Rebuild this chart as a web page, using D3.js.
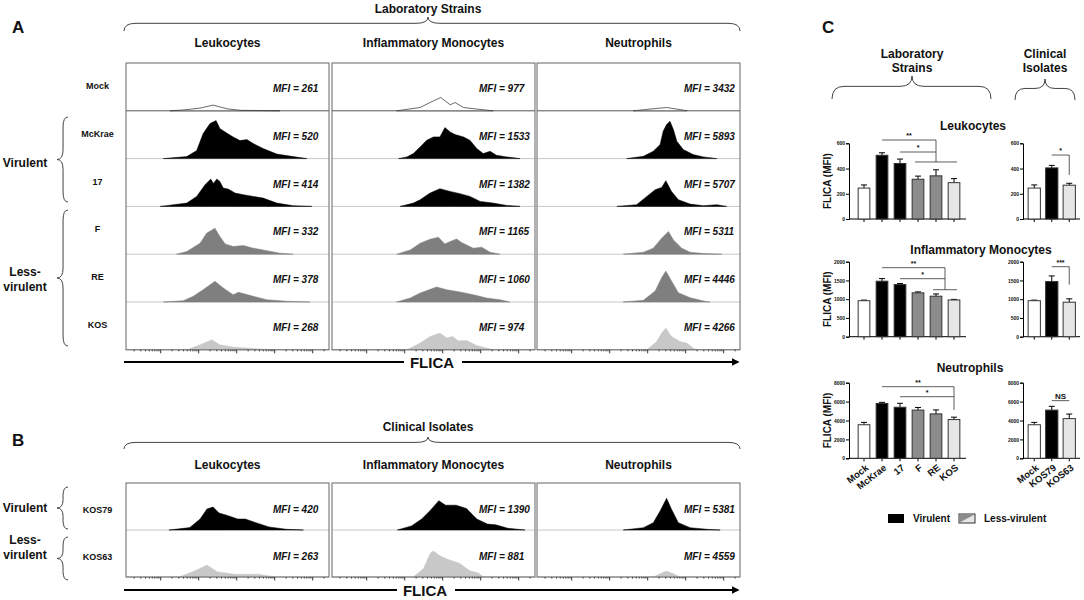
<!DOCTYPE html>
<meta charset="utf-8">
<script src="https://d3js.org/d3.v7.min.js"></script>
<style>
  body { margin: 0; background: #fff; }
  text { font-family: "Liberation Sans", Arial, sans-serif; font-weight: bold; fill: #111; }
</style>
<div id="fig"></div>
<script>
// ---------------- data ----------------
var labStrains = ["Mock", "McKrae", "17", "F", "RE", "KOS"];
var clinStrains = ["KOS79", "KOS63"];
var clinBarsCats = ["Mock", "KOS79", "KOS63"];
var cellTypes = ["Leukocytes", "Inflammatory Monocytes", "Neutrophils"];

// MFI printed on each histogram
var mfiLeukLab = [261, 520, 414, 332, 378, 268];
var mfiMonoLab = [977, 1533, 1382, 1165, 1060, 974];
var mfiNeutLab = [3432, 5893, 5707, 5311, 4446, 4266];
var mfiLeukClin = [420, 263];
var mfiMonoClin = [1390, 881];
var mfiNeutClin = [5381, 4559];

// histogram outlines: [log10 FLICA, events]
var histLeukLab = [
  [[2.26,0],[2.6,0.8],[3.05,2.7],[3.39,5.7],[3.76,2],[4.1,0.5],[4.6,0.3],[5.15,0]],
  [[2.08,0],[2.70,2],[2.96,8],[3.13,25],[3.31,35],[3.47,38],[3.57,30],[3.75,25.6],[3.92,21.6],[4.10,18],[4.28,19],[4.45,15],[4.71,10],[5.07,4.5],[5.50,2],[5.86,0]],
  [[2.0,0],[2.70,3.3],[2.96,10],[3.18,21.7],[3.33,27.3],[3.40,23],[3.49,27.3],[3.57,25],[3.66,18.3],[3.79,17.3],[3.97,13.3],[4.19,11.7],[4.45,10],[4.71,8.3],[5.07,3.3],[5.50,0.7],[5.99,0]],
  [[2.43,0],[2.70,2.7],[3.05,11],[3.22,21],[3.44,26],[3.57,17.7],[3.71,10.3],[3.92,7.7],[4.19,8.7],[4.45,6],[4.71,4.3],[5.15,1],[5.50,0]],
  [[2.08,0],[2.61,1.3],[2.87,5.7],[3.13,12.3],[3.44,20.7],[3.66,14],[3.92,7.3],[4.06,9.7],[4.23,8],[4.45,5.7],[4.80,2.3],[5.33,0.7],[5.94,0]],
  [[2.70,0],[3.05,5],[3.36,10],[3.57,5],[3.92,2.7],[4.45,1.3],[4.98,0]]
];
var histMonoLab = [
  [[2.80,0],[3.42,3.3],[3.68,8.3],[3.96,13.3],[4.21,6],[4.34,8.3],[4.56,3.3],[4.91,1.7],[5.34,0]],
  [[2.85,0],[3.07,1.7],[3.24,5],[3.42,11.7],[3.59,18.3],[3.77,21.7],[3.94,21.7],[4.07,31],[4.21,26.7],[4.34,24],[4.56,21.7],[4.73,18.3],[4.91,10],[5.08,5],[5.26,7.3],[5.43,3.3],[5.70,1.7],[6.05,0]],
  [[2.89,0],[3.24,3.3],[3.42,6.7],[3.68,13.3],[3.94,17.7],[4.21,15],[4.47,12.7],[4.73,10],[5.00,5],[5.34,3.3],[5.70,1],[6.05,0]],
  [[2.80,0],[3.16,4.3],[3.42,11],[3.68,15],[3.90,17],[4.07,10.3],[4.21,12.7],[4.38,15.3],[4.51,11.7],[4.82,6],[5.04,7],[5.26,2],[5.52,0]],
  [[2.80,0],[3.16,4],[3.42,9],[3.85,15],[4.12,12.3],[4.47,10],[4.82,7.3],[5.17,4],[5.52,2.3],[5.78,0]],
  [[3.07,0],[3.42,6.7],[3.68,13.3],[3.94,16.7],[4.12,11.7],[4.27,13.3],[4.42,9],[4.64,9.3],[4.91,4.3],[5.17,1.7],[5.34,0]]
];
var histNeutLab = [
  [[3.64,0],[4.07,1.7],[4.51,3.3],[4.95,0.7],[5.04,0]],
  [[3.46,0],[3.90,2.3],[4.16,7.3],[4.34,14],[4.42,27.3],[4.51,34],[4.60,37.3],[4.69,29],[4.78,17.3],[4.95,9],[5.21,4],[5.48,1.7],[5.83,0]],
  [[3.20,0],[3.72,1.7],[3.99,10],[4.21,16.7],[4.38,19],[4.49,25.7],[4.64,15],[4.82,6.7],[5.13,2.3],[5.48,0.7],[5.83,1.7],[6.09,0]],
  [[3.37,0],[3.90,2],[4.16,6],[4.38,16],[4.56,22.7],[4.69,14.3],[4.91,6],[5.13,2],[5.48,0.7],[5.96,0]],
  [[3.37,0],[3.90,1.7],[4.21,11],[4.38,24.3],[4.49,31],[4.64,21],[4.82,9.3],[5.13,4.3],[5.57,0.3],[5.65,0]],
  [[3.99,0],[4.25,8.3],[4.38,16.7],[4.49,21.7],[4.64,13.3],[4.86,8.3],[5.04,6.7],[5.21,1.7],[5.30,0]]
];
var histLeukClin = [
  [[2.23,0],[2.78,2.4],[3.05,11],[3.23,21],[3.39,23],[3.55,17],[3.77,14.5],[4.04,11],[4.24,11],[4.50,7.6],[4.86,3.1],[5.32,0.7],[5.77,0]],
  [[2.50,0],[2.96,6.9],[3.23,12],[3.50,5.2],[3.96,2.8],[4.59,2.8],[5.04,0]]
];
var histMonoClin = [
  [[2.82,0],[3.19,4.1],[3.46,11],[3.69,19.7],[3.91,29.3],[4.09,24.8],[4.37,24.8],[4.64,21.4],[4.91,11],[5.19,5.9],[5.41,5.2],[5.73,1.7],[6.18,0]],
  [[3.24,0],[3.51,8.6],[3.69,24],[3.77,25.9],[3.96,20.7],[4.18,17.2],[4.45,13.8],[4.73,6.2],[4.95,4.1],[5.09,0]]
];
var histNeutClin = [
  [[3.37,0],[3.90,2.3],[4.16,7.3],[4.34,19],[4.51,31.7],[4.64,20.7],[4.82,7.3],[5.13,2.3],[5.57,0.7],[5.92,0]],
  [[4.16,0],[4.34,3.3],[4.51,6],[4.69,3.3],[4.86,0]]
];

// bar chart values (mean MFI, SEM)
var leukLab = [245, 505, 440, 315, 342, 288],     leukLabErr = [25, 20, 35, 25, 48, 32];
var leukClin = [245, 405, 268],                    leukClinErr = [25, 20, 15];
var monoLab = [960, 1480, 1390, 1170, 1080, 980], monoLabErr = [15, 70, 30, 25, 60, 15];
var monoClin = [960, 1470, 920],                   monoClinErr = [15, 150, 90];
var neutLab = [3550, 5800, 5400, 5100, 4700, 4100], neutLabErr = [250, 120, 420, 280, 420, 250];
var neutClin = [3550, 5100, 4200],                 neutClinErr = [250, 400, 480];

// significance brackets
var leukLabSig = [{a:"McKrae", v:626, txt:"**"}, {a:"17", v:531, txt:"*"}];
var leukLabStem = {at:["RE"], top:626, bottom:452, group:["F","KOS"]};
var monoLabSig = [{a:"McKrae", v:1840, txt:"**"}, {a:"17", v:1547, txt:"*"}];
var monoLabStem = {at:["RE","KOS"], top:1840, bottom:1253, group:["RE","KOS"]};
var neutLabSig = [{a:"McKrae", v:7577, txt:"**"}, {a:"17", v:6519, txt:"*"}];
var neutLabStem = {at:["KOS"], top:7577, bottom:5111, group:null};
var leukClinSig = {v:507, bottom:349, txt:"*"};
var monoClinSig = {v:1867, bottom:1387, txt:"***"};
var neutClinSig = {v:6100, bottom:null, txt:"NS"};

// ---------------- drawing ----------------
var svg = d3.select("#fig").append("svg").attr("width", 1084).attr("height", 600);

var histFill = {Mock:"#fff", McKrae:"#000", "17":"#000", F:"#7f7f7f", RE:"#7f7f7f", KOS:"#c8c8c8", KOS79:"#000", KOS63:"#c8c8c8"};
var barFill  = {Mock:"#fff", McKrae:"#000", "17":"#000", F:"#8c8c8c", RE:"#8c8c8c", KOS:"#e6e6e6", KOS79:"#000", KOS63:"#e6e6e6"};

var colLeft = [126, 332, 537], colW = 203, decPx = 38;

function hBrace(x1, x2, yTip, h, mid) {
  mid = mid || (x1 + x2) / 2;
  var ym = yTip + h * 0.45, ye = yTip + h, w = Math.min(12, (x2 - x1) / 6);
  return "M" + x1 + "," + ye + " Q" + x1 + "," + ym + " " + (x1 + w) + "," + ym +
    " L" + (mid - w) + "," + ym + " Q" + mid + "," + ym + " " + mid + "," + yTip +
    " Q" + mid + "," + ym + " " + (mid + w) + "," + ym +
    " L" + (x2 - w) + "," + ym + " Q" + x2 + "," + ym + " " + x2 + "," + ye;
}
function vBrace(xTip, w, y1, y2) {
  var xm = xTip + w * 0.55, xe = xTip + w, mid = (y1 + y2) / 2, c = Math.min(10, (y2 - y1) / 5);
  return "M" + xe + "," + y1 + " Q" + xm + "," + y1 + " " + xm + "," + (y1 + c) +
    " L" + xm + "," + (mid - c) + " Q" + xm + "," + mid + " " + xTip + "," + mid +
    " Q" + xm + "," + mid + " " + xm + "," + (mid + c) +
    " L" + xm + "," + (y2 - c) + " Q" + xm + "," + y2 + " " + xe + "," + y2;
}
function brace(d) {
  svg.append("path").attr("d", d).attr("fill", "none").attr("stroke", "#444").attr("stroke-width", 1);
}
function label(x, y, txt, size, anchor) {
  return svg.append("text").attr("x", x).attr("y", y).attr("text-anchor", anchor || "middle")
    .style("font-size", size + "px").text(txt);
}

// arrowhead
svg.append("defs").append("marker").attr("id", "arr").attr("viewBox", "0 0 10 10")
  .attr("refX", 8).attr("refY", 5).attr("markerWidth", 4).attr("markerHeight", 4).attr("orient", "auto")
  .append("path").attr("d", "M0,0 L10,5 L0,10 z").attr("fill", "#000");

function histPanel(top, rowH, strains, hists, mfis, mfiBase, labelBase) {
  hists.forEach(function(colHists, c) {
    var x0 = colLeft[c];
    var x = d3.scaleLog().domain([Math.pow(10, 1.1), Math.pow(10, 1.1 + colW / decPx)]).range([x0, x0 + colW]);
    var g = svg.append("g");
    strains.forEach(function(s, r) {
      var bot = top + (r + 1) * rowH;
      var y = d3.scaleLinear().domain([0, 48]).range([bot, bot - 48]);
      var area = d3.area().x(function(d) { return x(Math.pow(10, d[0])); })
        .y0(y(0)).y1(function(d) { return y(d[1]); });
      g.append("line").attr("x1", x0).attr("x2", x0 + colW).attr("y1", bot).attr("y2", bot)
        .attr("stroke", s === "Mock" ? "#555" : "#c8c8c8").attr("stroke-width", 1);
      g.append("path").datum(colHists[r]).attr("d", area)
        .attr("fill", histFill[s])
        .attr("stroke", s === "Mock" ? "#444" : histFill[s])
        .attr("stroke-width", s === "Mock" ? 0.8 : 0.5);
      g.append("text").attr("x", x0 + 147).attr("y", top + r * rowH + mfiBase)
        .style("font-size", "10px").style("font-style", "italic")
        .text("MFI = " + mfis[c][r]);
    });
    var H = rowH * strains.length;
    g.append("rect").attr("x", x0).attr("y", top).attr("width", colW).attr("height", H)
      .attr("fill", "none").attr("stroke", "#666").attr("stroke-width", 1);
    // log axis ticks
    var minor = [], major = [];
    for (var k = 1; k <= 7; k++) for (var m = 1; m <= 9; m++) {
      var v = m * Math.pow(10, k);
      if (v > x.domain()[0] && v < x.domain()[1]) (m === 1 ? major : minor).push(v);
    }
    [[minor, 1.5], [major, 3.5]].forEach(function(t) {
      var ax = g.append("g").attr("transform", "translate(0," + (top + H) + ")")
        .call(d3.axisBottom(x).tickValues(t[0]).tickSize(t[1]).tickFormat(""));
      ax.select(".domain").remove();
      ax.selectAll(".tick line").attr("stroke", "#333");
    });
  });
  strains.forEach(function(s, r) {
    label(97.5, top + r * rowH + labelBase, s, 9);
  });
}

// ---- panel A ----
label(12, 33, "A", 17, "start");
label(428, 13, "Laboratory Strains", 12);
brace(hBrace(124, 740, 17, 14, 428));
cellTypes.forEach(function(t, c) { label(colLeft[c] + colW / 2, 47, t, 12); });
histPanel(63, 47.8, labStrains, [histLeukLab, histMonoLab, histNeutLab],
  [mfiLeukLab, mfiMonoLab, mfiNeutLab], 29, 26);
label(25, 167, "Virulent", 12);
brace(vBrace(57, 11, 117, 202));
label(25, 276, "Less-", 12);
label(25, 291, "virulent", 12);
brace(vBrace(57, 11, 210, 346));

function flicaArrow(y, xText) {
  svg.append("line").attr("x1", 124).attr("x2", xText - 28).attr("y1", y).attr("y2", y)
    .attr("stroke", "#000").attr("stroke-width", 2);
  svg.append("line").attr("x1", xText + 30).attr("x2", 738).attr("y1", y).attr("y2", y)
    .attr("stroke", "#000").attr("stroke-width", 2).attr("marker-end", "url(#arr)");
  label(xText, y + 6, "FLICA", 15);
}
flicaArrow(362, 432);

// ---- panel B ----
label(12, 446, "B", 17, "start");
label(428, 431, "Clinical Isolates", 12);
brace(hBrace(124, 740, 437, 12, 428));
cellTypes.forEach(function(t, c) { label(colLeft[c] + colW / 2, 469, t, 12); });
histPanel(483, 47, clinStrains, [histLeukClin, histMonoClin, histNeutClin],
  [mfiLeukClin, mfiMonoClin, mfiNeutClin], 30, 30);
label(25, 512, "Virulent", 12);
brace(vBrace(57, 11, 487, 529));
label(25, 544, "Less-", 12);
label(25, 559, "virulent", 12);
brace(vBrace(57, 11, 537, 580));
flicaArrow(590, 425);

// ---- panel C ----
label(822, 33, "C", 17, "start");
label(912, 58, "Laboratory", 12); label(912, 72, "Strains", 12);
label(1045, 58, "Clinical", 12); label(1045, 72, "Isolates", 12);
brace(hBrace(832, 991, 76, 23, 912));
brace(hBrace(1015, 1075, 79, 21, 1045));

var xLab = d3.scaleBand().domain(labStrains).range([855, 963]).paddingInner(0.35).paddingOuter(0.175);
var xClin = d3.scaleBand().domain(clinBarsCats).range([1025.5, 1078]).paddingInner(0.3).paddingOuter(0.15);

var charts = [
  {title:"Leukocytes", tx:973, ty:130, y0:219, y1:143.3, max:600, ticks:[0,200,400,600], names:false,
   lab:leukLab, labErr:leukLabErr, clin:leukClin, clinErr:leukClinErr, sig:leukLabSig, stem:leukLabStem, csig:leukClinSig},
  {title:"Inflammatory Monocytes", tx:981, ty:254, y0:336.7, y1:261.7, max:2000, ticks:[0,500,1000,1500,2000], names:false,
   lab:monoLab, labErr:monoLabErr, clin:monoClin, clinErr:monoClinErr, sig:monoLabSig, stem:monoLabStem, csig:monoClinSig},
  {title:"Neutrophils", tx:970, ty:372, y0:458.3, y1:382.7, max:8000, ticks:[0,2000,4000,6000,8000], names:true,
   lab:neutLab, labErr:neutLabErr, clin:neutClin, clinErr:neutClinErr, sig:neutLabSig, stem:neutLabStem, csig:neutClinSig}
];

function barChart(g, x, axisX, axisEnd, y, ticks, names, cats, vals, errs) {
  var ya = g.append("g").attr("transform", "translate(" + axisX + ",0)")
    .call(d3.axisLeft(y).tickValues(ticks).tickSize(3).tickPadding(1).tickFormat(d3.format("d")));
  ya.select(".domain").attr("stroke", "#000");
  ya.selectAll("text").style("font-size", "5px");
  var xa = g.append("g").attr("transform", "translate(0," + y(0) + ")")
    .call(d3.axisBottom(x).tickSize(3).tickPadding(1));
  xa.select(".domain").attr("d", "M" + axisX + ",0H" + axisEnd).attr("stroke", "#000");
  if (names) {
    xa.selectAll("text").style("font-size", "9.5px").attr("text-anchor", "end")
      .attr("x", 0).attr("y", 0).attr("dy", "0.35em")
      .attr("transform", "translate(3,8) rotate(-38)");
  } else {
    xa.selectAll("text").remove();
  }
  var bw = x.bandwidth();
  cats.forEach(function(c, i) {
    var cx = x(c) + bw / 2;
    g.append("line").attr("x1", cx).attr("x2", cx).attr("y1", y(vals[i])).attr("y2", y(vals[i] + errs[i]))
      .attr("stroke", "#000").attr("stroke-width", 1);
    g.append("line").attr("x1", cx - 3).attr("x2", cx + 3).attr("y1", y(vals[i] + errs[i])).attr("y2", y(vals[i] + errs[i]))
      .attr("stroke", "#000").attr("stroke-width", 1);
    g.append("rect").attr("x", x(c)).attr("y", y(vals[i])).attr("width", bw).attr("height", y(0) - y(vals[i]))
      .attr("fill", barFill[c]).attr("stroke", "#333").attr("stroke-width", 1);
  });
}

function seg(x1, y1, x2, y2) {
  svg.append("line").attr("x1", x1).attr("x2", x2).attr("y1", y1).attr("y2", y2)
    .attr("stroke", "#333").attr("stroke-width", 0.8);
}
function center(x, c) { return x(c) + x.bandwidth() / 2; }

charts.forEach(function(ch) {
  label(ch.tx, ch.ty, ch.title, 12);
  var y = d3.scaleLinear().domain([0, ch.max]).range([ch.y0, ch.y1]);
  svg.append("text").attr("transform", "translate(831," + ((ch.y0 + ch.y1) / 2) + ") rotate(-90)")
    .attr("text-anchor", "middle").style("font-size", "10px").text("FLICA (MFI)");
  barChart(svg.append("g"), xLab, 849, 966, y, ch.ticks, ch.names, labStrains, ch.lab, ch.labErr);
  barChart(svg.append("g"), xClin, 1023, 1080, y, ch.ticks, ch.names, clinBarsCats, ch.clin, ch.clinErr);

  // lab brackets
  var px = d3.mean(ch.stem.at, function(c) { return center(xLab, c); });
  ch.sig.forEach(function(s) {
    var xa = center(xLab, s.a);
    seg(xa, y(s.v), px, y(s.v));
    label((xa + px) / 2, y(s.v) - 2, s.txt, 7);
  });
  seg(px, y(ch.stem.top), px, y(ch.stem.bottom));
  if (ch.stem.group) {
    seg(center(xLab, ch.stem.group[0]) - 3, y(ch.stem.bottom), center(xLab, ch.stem.group[1]) + 3, y(ch.stem.bottom));
  }
  // clinical bracket
  var c1 = center(xClin, "KOS79"), c2 = center(xClin, "KOS63");
  seg(c1, y(ch.csig.v), c2, y(ch.csig.v));
  if (ch.csig.bottom) seg(c2, y(ch.csig.v), c2, y(ch.csig.bottom));
  label((c1 + c2) / 2, y(ch.csig.v) - 2, ch.csig.txt, ch.csig.txt === "NS" ? 8 : 7);
});

// legend
svg.append("rect").attr("x", 888).attr("y", 514).attr("width", 16).attr("height", 9).attr("fill", "#000");
label(913, 522, "Virulent", 10, "start");
svg.append("rect").attr("x", 959).attr("y", 514).attr("width", 16).attr("height", 9)
  .attr("fill", "#e6e6e6").attr("stroke", "#333");
svg.append("path").attr("d", "M959.5,522.5 L959.5,514.5 L974.5,514.5 z").attr("fill", "#8c8c8c");
label(984, 522, "Less-virulent", 10, "start");
</script>
